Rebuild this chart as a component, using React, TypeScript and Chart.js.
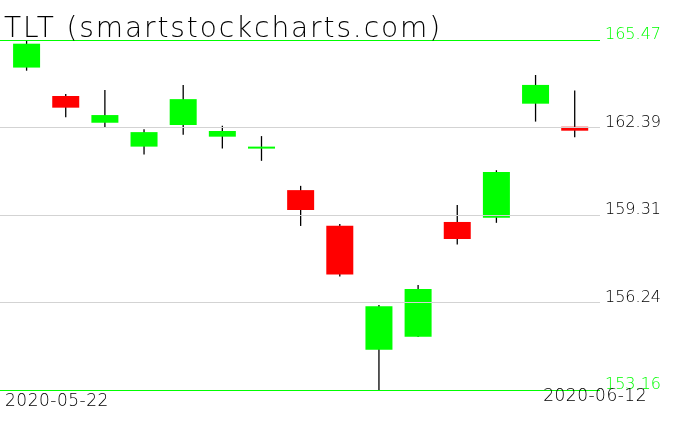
import React, { useEffect, useRef } from "react";
import { Chart, registerables } from "chart.js";

Chart.register(...registerables);

const symbol = "TLT";
const title = "TLT (smartstockcharts.com)";
const dates = [
  "2020-05-22", "2020-05-26", "2020-05-27", "2020-05-28", "2020-05-29",
  "2020-06-01", "2020-06-02", "2020-06-03", "2020-06-04", "2020-06-05",
  "2020-06-08", "2020-06-09", "2020-06-10", "2020-06-11", "2020-06-12",
];
const opens = [164.5, 163.5, 162.56, 161.72, 162.48, 162.07, 161.65, 160.19, 158.94, 154.58, 155.03, 159.07, 159.22, 163.23, 162.42];
const highs = [165.44, 163.57, 163.71, 162.33, 163.89, 162.45, 162.09, 160.34, 159.0, 156.15, 156.85, 159.67, 160.89, 164.24, 163.69];
const lows = [164.39, 162.75, 162.39, 161.44, 162.14, 161.65, 161.22, 158.93, 157.15, 153.16, 155.02, 158.28, 159.04, 162.6, 162.05];
const closes = [165.34, 163.09, 162.83, 162.23, 163.39, 162.27, 161.72, 159.49, 157.22, 156.11, 156.71, 158.47, 160.83, 163.89, 162.28];
const yTicks = [153.16, 156.24, 159.31, 162.39, 165.47];

const UP = "#00ff00";
const DOWN = "#ff0000";
const FONT = '"DejaVu Sans"';

export default function App() {
  const ref = useRef<HTMLCanvasElement | null>(null);

  useEffect(() => {
    if (!ref.current) return;
    const textPlugin = {
      id: "textPlugin",
      afterDraw(chart: any) {
        const ctx = chart.ctx;
        ctx.save();
        ctx.fillStyle = "#000";
        ctx.textBaseline = "alphabetic";
        ctx.textAlign = "left";
        ctx.font = `200 28px ${FONT}`;
        (ctx as any).letterSpacing = "1.9px";
        ctx.fillText(title, 4, 37);
        ctx.font = `200 17px ${FONT}`;
        (ctx as any).letterSpacing = "0.5px";
        ctx.fillText(dates[0], 5, 406);
        ctx.textAlign = "right";
        ctx.fillText(dates[dates.length - 1], 647, 401);
        ctx.restore();
      },
    };

    const chart = new Chart(ref.current, {
      type: "bar",
      data: {
        datasets: [
          {
            label: symbol + " body",
            data: dates.map((d, i) => ({ x: i, y: [opens[i], closes[i]] })) as any,
            backgroundColor: dates.map((d, i) => (closes[i] >= opens[i] ? UP : DOWN)),
            barThickness: 27,
            grouped: false,
            inflateAmount: 0,
            borderWidth: 0,
          } as any,
          {
            label: symbol + " wick",
            data: dates.map((d, i) => ({ x: i, y: [lows[i], highs[i]] })) as any,
            backgroundColor: "#000",
            barThickness: 1.3,
            grouped: false,
            inflateAmount: 0,
            borderWidth: 0,
          } as any,
        ],
      },
      options: {
        animation: false,
        responsive: true,
        maintainAspectRatio: false,
        devicePixelRatio: 1,
        layout: { padding: { top: 40, bottom: 41, left: 0, right: 0 } },
        plugins: {
          legend: { display: false },
          tooltip: { enabled: false },
          title: { display: false },
        },
        scales: {
          x: {
            type: "linear",
            min: -0.679,
            max: 14.646,
            offset: false,
            display: false,
          },
          y: {
            position: "right",
            min: yTicks[0],
            max: yTicks[yTicks.length - 1],
            afterBuildTicks: (scale: any) => {
              scale.ticks = yTicks.map((v) => ({ value: v }));
            },
            afterFit: (scale: any) => {
              scale.width = 76;
            },
            border: { display: false },
            grid: {
              z: 1,
              drawTicks: false,
              lineWidth: 1,
              color: (c: any) =>
                c.index === 0 || c.index === yTicks.length - 1 ? "#00ff00" : "#d3d3d3",
            },
            ticks: {
              padding: 5,
              labelOffset: -5,
              font: { family: FONT, size: 16, weight: "200" },
              color: (c: any) =>
                c.index === 0 || c.index === yTicks.length - 1 ? "#00ff00" : "#000",
              callback: (v: any) => Number(v).toFixed(2),
            },
          },
        },
      } as any,
      plugins: [textPlugin],
    });
    return () => chart.destroy();
  }, []);

  return (
    <div style={{ position: "fixed", left: 0, top: 0, width: 676, height: 431, background: "#fff" }}>
      <canvas ref={ref} />
    </div>
  );
}
